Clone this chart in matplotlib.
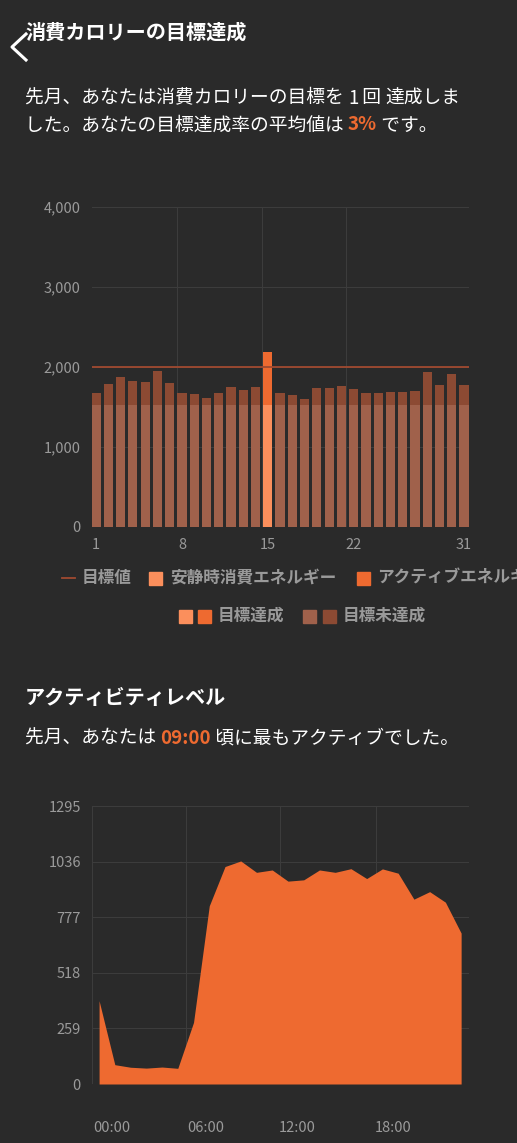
import matplotlib.pyplot as plt
import numpy as np

plt.rcParams['font.family'] = ['Noto Sans CJK JP', 'DejaVu Sans']

# calories per day
days = list(range(1, 32))
total_kcal = [1679, 1783, 1871, 1829, 1813, 1954, 1796, 1671, 1658, 1608, 1679, 1754, 1713, 1746, 2188,
              1679, 1650, 1596, 1742, 1742, 1763, 1725, 1679, 1671, 1688, 1683, 1704, 1942, 1779, 1917, 1771]
rest_kcal = [1520] * 31
goal_kcal = 2000

# activity per hour
hours = list(range(24))
activity = [388, 90, 78, 74, 79, 73, 287, 830, 1013, 1039, 986, 997, 945, 951, 997, 986,
            1003, 957, 1002, 982, 861, 896, 847, 703]
act_ticks = [0, 259, 518, 777, 1036, 1295]
hour_labels = ['00:00', '06:00', '12:00', '18:00']

BG = '#2a2a2a'
GRID = '#3c3c3c'
TXT = '#9a9a9a'
REST_OK, ACT_OK = '#fb8f5c', '#ee6a30'
REST_NO, ACT_NO = '#a0614b', '#8c4a33'

W, H = 517, 1143
fig = plt.figure(figsize=(W / 100, H / 100), dpi=100, facecolor=BG)
renderer = fig.canvas.get_renderer()

def fy(px):
    return 1 - px / H

def fx(px):
    return px / W

def inline(x0, y0, parts, size=13.5):
    # draw text pieces one after another on a line
    x = fx(x0)
    for s, c, w in parts:
        t = fig.text(x, fy(y0), s, color=c, fontsize=size, weight=w, va='center')
        bb = t.get_window_extent(renderer)
        x += bb.width / W

# back chevron
fig.add_artist(plt.Line2D([fx(26), fx(12), fx(26)], [fy(34), fy(47), fy(60)], color='white', lw=2.2))
fig.text(fx(25), fy(32), '消費カロリーの目標達成', color='white', fontsize=14.5, weight='bold', va='center')
inline(25, 98, [('先月、あなたは消費カロリーの目標を ', 'white', 'normal'), ('1', 'white', 'normal'),
                (' 回 ', 'white', 'normal'), ('達成しま', 'white', 'normal')])
inline(25, 125, [('した。あなたの目標達成率の平均値は ', 'white', 'normal'), ('3%', ACT_OK, 'bold'),
                 (' です。', 'white', 'normal')])

# bar chart
ax1 = fig.add_axes([fx(92), fy(527), fx(469 - 92), (527 - 207) / H])
ax1.set_facecolor(BG)
hit = [t >= goal_kcal for t in total_kcal]
active = [t - r for t, r in zip(total_kcal, rest_kcal)]
ax1.bar(days, rest_kcal, width=0.75, color=[REST_OK if h else REST_NO for h in hit], zorder=2)
ax1.bar(days, active, bottom=rest_kcal, width=0.75, color=[ACT_OK if h else ACT_NO for h in hit], zorder=2)
ax1.axhline(goal_kcal, color='#a04a30', lw=1.3, zorder=3)
ax1.set_xlim(0.67, 31.4)
ax1.set_ylim(0, 4000)
ax1.set_yticks([0, 1000, 2000, 3000, 4000])
ax1.set_yticklabels(['0', '1,000', '2,000', '3,000', '4,000'])
ax1.set_xticks([1, 8, 15, 22, 31])
ax1.set_xticks([7.6, 14.5, 21.4], minor=True)
ax1.grid(True, axis='y', color=GRID, lw=0.8, zorder=0)
ax1.grid(True, axis='x', which='minor', color=GRID, lw=0.8, zorder=0)
ax1.tick_params(colors=TXT, labelsize=10.5, length=0, pad=8, which='both')
for s in ax1.spines.values():
    s.set_visible(False)
ax1.axvline(31.4, color=GRID, lw=0.8, zorder=0)

# legend rows (first one runs off the page like the reference)
LS = 12
ly = fy(578)
fig.add_artist(plt.Line2D([fx(62), fx(75)], [ly, ly], color='#a04a30', lw=1.3))
fig.text(fx(82), ly, '目標値', color=TXT, fontsize=LS, va='center', weight='bold')
fig.add_artist(plt.Rectangle((fx(149), fy(585)), fx(13), 13 / H, color=REST_OK))
fig.text(fx(170), ly, '安静時消費エネルギー', color=TXT, fontsize=LS, va='center', weight='bold')
fig.add_artist(plt.Rectangle((fx(357), fy(585)), fx(13), 13 / H, color=ACT_OK))
fig.text(fx(377), ly, 'アクティブエネルギー', color=TXT, fontsize=LS, va='center', weight='bold')
ly2 = fy(616)
for x0, c in [(179, REST_OK), (198, ACT_OK), (303, REST_NO), (323, ACT_NO)]:
    fig.add_artist(plt.Rectangle((fx(x0), fy(623)), fx(13), 13 / H, color=c))
fig.text(fx(218), ly2, '目標達成', color=TXT, fontsize=LS, va='center', weight='bold')
fig.text(fx(343), ly2, '目標未達成', color=TXT, fontsize=LS, va='center', weight='bold')

# activity section
fig.text(fx(25), fy(698), 'アクティビティレベル', color='white', fontsize=14.5, weight='bold', va='center')
inline(25, 738, [('先月、あなたは ', 'white', 'normal'), ('09:00', ACT_OK, 'bold'),
                 (' 頃に最もアクティブでした。', 'white', 'normal')])

ax2 = fig.add_axes([fx(92), fy(1084), fx(469 - 92), (1084 - 806) / H])
ax2.set_facecolor(BG)
ax2.fill_between(hours, activity, 0, color=ACT_OK, lw=0, zorder=2)
ax2.set_xlim(-0.45, 23.5)
ax2.set_ylim(0, 1295)
ax2.set_yticks(act_ticks)
ax2.set_xticks([0.8, 6.8, 12.6, 18.7])
ax2.set_xticklabels(hour_labels)
ax2.set_xticks([5.5, 11.5, 17.6], minor=True)
ax2.grid(True, axis='y', color=GRID, lw=0.8, zorder=0)
ax2.grid(True, axis='x', which='minor', color=GRID, lw=0.8, zorder=0)
ax2.tick_params(colors=TXT, labelsize=10.5, length=0, which='both')
ax2.tick_params(axis='x', pad=27)
ax2.tick_params(axis='y', pad=8)
for s in ax2.spines.values():
    s.set_visible(False)
ax2.axvline(23.5, color=GRID, lw=0.8, zorder=0)
ax2.axvline(-0.45, color=GRID, lw=0.8, zorder=0)

fig.savefig('out.png', dpi=100, facecolor=BG)
